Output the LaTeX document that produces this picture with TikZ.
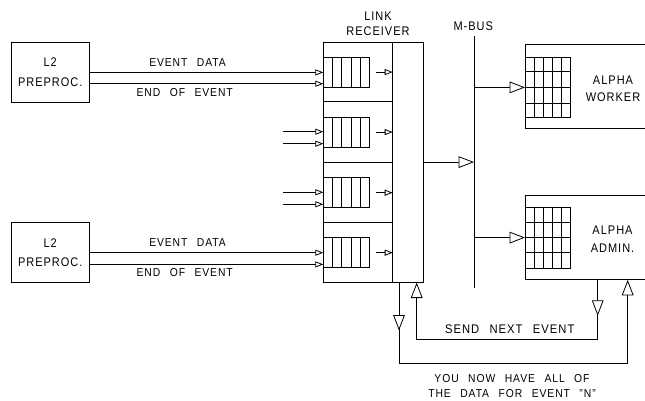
\documentclass[tikz,border=0pt]{standalone}
\usepackage{fontspec}
\setmainfont{Liberation Sans}[LetterSpace=8,WordSpace=2.5,FakeStretch=0.9]
\newfontfamily\boxfont{Liberation Sans}[LetterSpace=8,WordSpace=3,FakeStretch=0.88]
\newcommand\boxsize[1]{\boxfont\fontsize{12.5}{#1}\selectfont}
\usetikzlibrary{arrows.meta,decorations.markings}

\begin{document}
\begin{tikzpicture}[x=1pt,y=-1pt,line width=0.8pt,
  txt/.style={font=\fontsize{11.5}{15}\selectfont,inner sep=0pt,align=center},
  box/.style={draw,rectangle,inner sep=0pt,anchor=north west},
  small/.style={-{Triangle[open,fill=white,length=8pt,width=6pt]}},
  big/.style={-{Triangle[open,fill=white,length=15.5pt,width=11.7pt]}},
  midarrow/.style={postaction={decorate},decoration={markings,
    mark=at position #1 with {\arrow{Triangle[open,fill=white,length=15.5pt,width=11.7pt]}}}}]
\useasboundingbox (0,0) rectangle (645,401);
\clip (0,0) rectangle (645,401);

% preprocessors
\node[box,minimum width=78.3,minimum height=60,
  font=\boxsize{19.4},align=center] (l2a) at (10.7,41.7) {L2\\PREPROC.};
\node[box,minimum width=78.3,minimum height=60,
  font=\boxsize{19.4},align=center] (l2b) at (10.7,222.3) {L2\\PREPROC.};

% link receiver
\node[box,minimum width=99.4,minimum height=240] (lr) at (323.3,41.7) {};
\node[txt,font=\boxsize{15}] (lrlabel) at (378,24.2) {LINK\\RECEIVER};
\coordinate (div) at (392.7,41.7);
\draw (div) -- (div |- lr.south);
\foreach \y in {101.7,162.3,222.3}
  \draw (lr.west |- 0,\y) -- (div |- 0,\y);

% queues inside the link receiver
\foreach \i/\t in {1/41.7,2/101.7,3/162.3,4/222.3}{
  \node[box,minimum width=46,minimum height=30] (q\i) at (323.3,\t+15) {};
  \foreach \k in {1,...,4}
    \draw ([xshift=9.2*\k pt]q\i.north west) -- ([xshift=9.2*\k pt]q\i.south west);
  \draw[small] ([xshift=5.7pt]q\i.east) -- (q\i.east -| div);
}

% inputs of the two middle links
\foreach \t [count=\i] in {101.7,162.3}{
  \coordinate (ina\i) at (283.3,\t+30);
  \coordinate (inb\i) at (283.3,\t+42);
  \draw[small] (ina\i) -- (ina\i -| lr.west);
  \draw[small] (inb\i) -- (inb\i -| lr.west);
}

% preprocessor links
\draw[small] ([yshift=-0.3pt]l2a.east) -- ([yshift=-0.3pt]l2a.east -| lr.west);
\draw[small] ([yshift=-11.6pt]l2a.east) -- ([yshift=-11.6pt]l2a.east -| lr.west);
\draw[small] (l2b.east) -- (l2b.east -| lr.west);
\draw[small] ([yshift=-11.7pt]l2b.east) -- ([yshift=-11.7pt]l2b.east -| lr.west);
\node[txt] (eda) at (187.5,62.3) {EVENT DATA};
\node[txt] (eea) at (184.7,92.7) {END OF EVENT};
\node[txt] (edb) at (187.5,242.7) {EVENT DATA};
\node[txt] (eeb) at (184.7,272.7) {END OF EVENT};

% M-bus
\coordinate (bustop) at (474,36);
\coordinate (busbot) at (474,288.3);
\draw (bustop) -- (busbot);
\node[txt,font=\boxsize{14}] (buslabel) at (473.3,25.7) {M-BUS};
\draw[big] (lr.east) -- (lr.east -| bustop);

% alpha worker
\node[box,minimum width=135,minimum height=84] (wk) at (525,44.3) {};
\node[box,minimum width=45,minimum height=60.6] (wg) at (525,56.7) {};
\foreach \k in {1,...,4}
  \draw ([xshift=9*\k pt]wg.north west) -- ([xshift=9*\k pt]wg.south west);
\draw ([yshift=-15.15pt]wg.north west) -- ([yshift=-15.15pt]wg.north east);
\draw[line width=1.6pt] (wg.west) -- (wg.east);
\draw ([yshift=15.15pt]wg.south west) -- ([yshift=15.15pt]wg.south east);
\node[txt,font=\boxsize{17.7}] (wklabel) at (613,88.8) {ALPHA\\WORKER};
\draw[big] (bustop |- wg.west) -- (wg.west);

% alpha admin
\node[box,minimum width=135,minimum height=84] (ad) at (525,195) {};
\node[box,minimum width=45,minimum height=61] (ag) at (525,206.7) {};
\foreach \k in {1,...,4}
  \draw ([xshift=9*\k pt]ag.north west) -- ([xshift=9*\k pt]ag.south west);
\foreach \k in {1,2,3}
  \draw ([yshift=-15.25*\k pt]ag.north west) -- ([yshift=-15.25*\k pt]ag.north east);
\node[txt,font=\boxsize{18.3}] (adlabel) at (612.5,239) {ALPHA\\ADMIN.};
\draw[big] (bustop |- ag.west) -- (ag.west);

% handshake loops between admin and link receiver
\coordinate (fa) at (399,0);
\coordinate (fb) at (627.7,0);
\coordinate (sa) at (597.7,0);
\coordinate (sb) at (416.7,0);
\draw[big,midarrow=48pt] (fa |- lr.south) -- (399,363.3) -- (627.7,363.3) -- (fb |- ad.south);
\draw[big,midarrow=36pt] (sa |- ad.south) -- (597.7,339.3) -- (416.7,339.3) -- (sb |- lr.south);
\node[txt,font=\fontsize{12.5}{14}\selectfont] (sendlabel) at (509.7,329) {SEND NEXT EVENT};
\node[txt] (donelabel) at (512,386.5) {YOU NOW HAVE ALL OF\\THE DATA FOR EVENT ''N''};
\end{tikzpicture}
\end{document}
